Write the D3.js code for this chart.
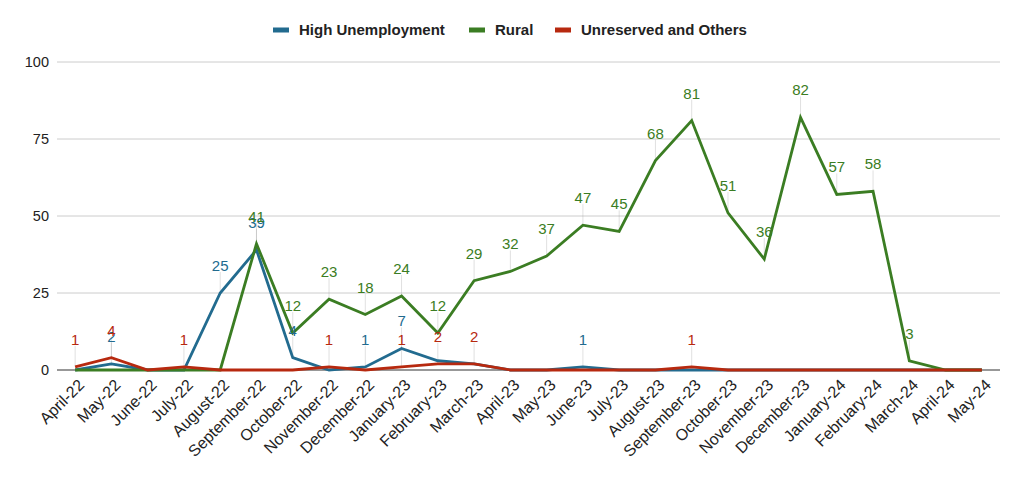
<!DOCTYPE html>
<html>
<head>
<meta charset="utf-8">
<script src="https://cdn.jsdelivr.net/npm/d3@7"></script>
<style>
  body { margin: 0; background: #fff; }
  text { font-family: "Liberation Sans", Arial, sans-serif; }
</style>
</head>
<body>
<div id="chart"></div>
<script>
// months on the x axis
var months = ["April-22", "May-22", "June-22", "July-22", "August-22", "September-22",
    "October-22", "November-22", "December-22", "January-23", "February-23", "March-23",
    "April-23", "May-23", "June-23", "July-23", "August-23", "September-23",
    "October-23", "November-23", "December-23", "January-24", "February-24", "March-24",
    "April-24", "May-24"];

// values
var highUnemployment = [0, 2, 0, 0, 25, 39, 4, 0, 1, 7, 3, 2, 0, 0, 1, 0, 0, 0, 0, 0, 0, 0, 0, 0, 0, 0];
var rural = [0, 0, 0, 0, 0, 41, 12, 23, 18, 24, 12, 29, 32, 37, 47, 45, 68, 81, 51, 36, 82, 57, 58, 3, 0, 0];
var unreserved = [1, 4, 0, 1, 0, 0, 0, 1, 0, 1, 2, 2, 0, 0, 0, 0, 0, 1, 0, 0, 0, 0, 0, 0, 0, 0];

var seriesNames = ["High Unemployment", "Rural", "Unreserved and Others"];
var yTicks = [0, 25, 50, 75, 100];

var colors = ["#226b8f", "#3b7d23", "#b7290f"];
var series = [highUnemployment, rural, unreserved];

const width = 1024;
const height = 477;
const plotLeft = 57, plotRight = 1000, plotTop = 62, plotBottom = 370;
const labelGap = 22;

var svg = d3.select("#chart")
    .append("svg")
    .attr("width", width)
    .attr("height", height)

var x = d3.scaleBand()
    .domain(months)
    .range([plotLeft, plotRight])
    .padding(0);

var y = d3.scaleLinear()
    .domain([0, 100])
    .range([plotBottom, plotTop]);

function cx(m) { return x(m) + x.bandwidth() / 2; }

// gridlines
svg.append("g")
    .selectAll("line")
    .data(yTicks.filter(function(d){ return d > 0; }))
    .enter().append("line")
    .attr("x1", plotLeft).attr("x2", plotRight)
    .attr("y1", function(d){ return y(d); })
    .attr("y2", function(d){ return y(d); })
    .attr("stroke", "#cccccc")
    .attr("stroke-width", 1);

// y tick labels
svg.append("g")
    .selectAll("text")
    .data(yTicks)
    .enter().append("text")
    .attr("x", 49)
    .attr("y", function(d){ return y(d); })
    .attr("dy", "0.36em")
    .attr("text-anchor", "end")
    .attr("font-size", 14.5)
    .attr("fill", "#222")
    .text(function(d){ return d; });

// x tick labels, rotated
svg.append("g")
    .selectAll("text")
    .data(months)
    .enter().append("text")
    .attr("transform", function(d){ return "translate(" + (cx(d) + 6) + "," + 382 + ") rotate(-45)"; })
    .attr("dy", "0.36em")
    .attr("text-anchor", "end")
    .attr("font-size", 16)
    .attr("fill", "#222")
    .text(function(d){ return d; });

// work out which labels to show (later series win when labels collide)
var labels = [];
var placed = [];
for (var s = series.length - 1; s >= 0; s--) {
    series[s].forEach(function(v, i) {
        if (!v) return;
        var px = cx(months[i]), py = y(v);
        var w = String(v).length * 8.4, h = 11;
        var box = { x0: px - w / 2, x1: px + w / 2, y0: py - labelGap - h, y1: py - labelGap };
        var hidden = placed.some(function(b) {
            var ox = Math.max(0, Math.min(b.x1, box.x1) - Math.max(b.x0, box.x0));
            var oy = Math.max(0, Math.min(b.y1, box.y1) - Math.max(b.y0, box.y0));
            var a = Math.min((b.x1 - b.x0) * (b.y1 - b.y0), w * h);
            return ox * oy / a > 0.6;
        });
        if (!hidden) {
            placed.push(box);
            labels.push({ s: s, v: v, x: px, y: py });
        }
    });
}
labels.sort(function(a, b){ return a.s - b.s; });

// stems
svg.append("g")
    .selectAll("line")
    .data(labels)
    .enter().append("line")
    .attr("x1", function(d){ return d.x; })
    .attr("x2", function(d){ return d.x; })
    .attr("y1", function(d){ return d.y; })
    .attr("y2", function(d){ return d.y - labelGap + 1; })
    .attr("stroke", "#999")
    .attr("stroke-opacity", 0.3)
    .attr("stroke-width", 1);

// baseline
svg.append("line")
    .attr("x1", plotLeft).attr("x2", plotRight)
    .attr("y1", y(0)).attr("y2", y(0))
    .attr("stroke", "#333")
    .attr("stroke-width", 1.2);

// lines
var line = d3.line()
    .x(function(d, i){ return cx(months[i]); })
    .y(function(d){ return y(d); });

svg.append("g")
    .selectAll("path")
    .data(series)
    .enter().append("path")
    .attr("d", line)
    .attr("fill", "none")
    .attr("stroke", function(d, i){ return colors[i]; })
    .attr("stroke-width", 2.8)
    .attr("stroke-linejoin", "miter");

// value labels
svg.append("g")
    .selectAll("text")
    .data(labels)
    .enter().append("text")
    .attr("x", function(d){ return d.x; })
    .attr("y", function(d){ return d.y - labelGap; })
    .attr("text-anchor", "middle")
    .attr("font-size", 15)
    .attr("fill", function(d){ return colors[d.s]; })
    .text(function(d){ return d.v; });

// legend
var legendX = [273, 469, 555];
var legend = svg.append("g")
    .selectAll("g")
    .data(seriesNames)
    .enter().append("g")
    .attr("transform", function(d, i){ return "translate(" + legendX[i] + ",30)"; });

legend.append("rect")
    .attr("x", 0).attr("y", -2.5)
    .attr("width", 16).attr("height", 5)
    .attr("fill", function(d, i){ return colors[i]; });

legend.append("text")
    .attr("x", 26)
    .attr("dy", "0.36em")
    .attr("font-size", 15)
    .attr("font-weight", "bold")
    .attr("fill", "#222")
    .text(function(d){ return d; });
</script>
</body>
</html>
